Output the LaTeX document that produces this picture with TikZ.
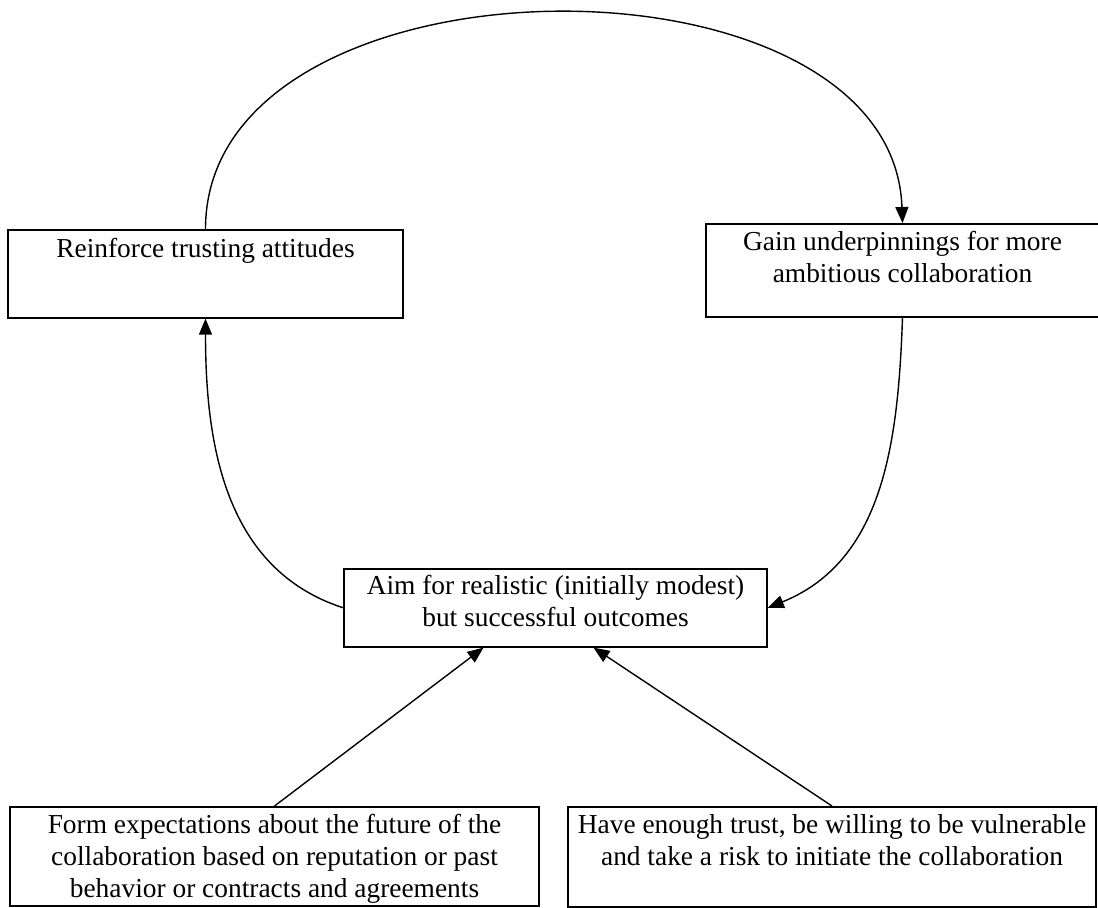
\documentclass[tikz,border=0pt]{standalone}
\usepackage{fontspec}
\setmainfont{Liberation Serif}
\usetikzlibrary{arrows.meta,positioning}

\begin{document}
\begin{tikzpicture}[
    x=0.5pt, y=-0.5pt,
    box/.style={rectangle, draw, line width=0.8pt, anchor=north, inner sep=0pt, align=center, text height=13.5pt, font=\fontsize{13.7pt}{16pt}\selectfont},
    arrow/.style={-{Triangle[length=8pt,width=6.5pt]}, line width=0.7pt}
]
\useasboundingbox (0,0) rectangle (1098,907);

% Nodes
\node[box, minimum width=197.5pt, text height=14pt, text depth=30pt] (reinforce) at (205.5,229) {Reinforce trusting attitudes};
\node[box, minimum width=196.5pt, text height=29.5pt, text depth=17pt] (gain) at (902.5,223) {Gain underpinnings for more\\ambitious collaboration};
\node[box, minimum width=211.5pt, text height=29pt, text depth=10pt] (aim) at (555.5,568) {Aim for realistic (initially modest)\\but successful outcomes};
\node[box, minimum width=264.5pt, text height=45.5pt, text depth=4pt] (expect) at (274.5,806) {Form expectations about the future of the\\collaboration based on reputation or past\\behavior or contracts and agreements};
\node[box, minimum width=264pt, text height=29.5pt, text depth=20.5pt] (trust) at (832,806) {Have enough trust, be willing to be vulnerable\\and take a risk to initiate the collaboration};

% Arrows
\draw[arrow] (reinforce.north) to[out=90, in=92, looseness=1.04] (gain.north);
\draw[arrow] (gain.south) to[out=-92, in=22] (aim.east);
\draw[arrow] (aim.west) to[out=162, in=-90] (reinforce.south);
\draw[arrow] (expect.north) -- ([xshift=-36pt]aim.south);
\draw[arrow] (trust.north) -- ([xshift=19pt]aim.south);

\end{tikzpicture}
\end{document}
